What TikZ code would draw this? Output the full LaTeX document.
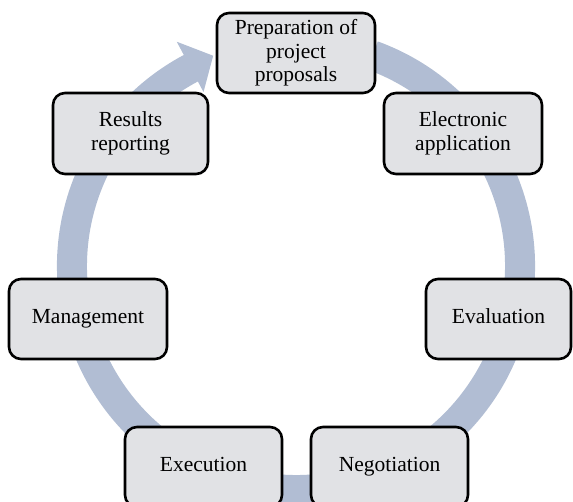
\documentclass[tikz,border=0pt]{standalone}
\usepackage{fontspec}
\setmainfont{Liberation Serif}
\usetikzlibrary{calc}
\definecolor{bandblue}{RGB}{177,189,211}
\definecolor{boxgray}{RGB}{225,226,229}
\tikzset{
  stage/.style={draw=black, line width=2.6pt, fill=boxgray, rounded corners=12pt,
    minimum width=#1, minimum height=80pt, inner sep=0pt, align=center,
    font=\fontsize{21.5}{23.5}\selectfont},
  stage/.default=158pt,
  band/.style={fill=bandblue}
}
\begin{document}
\begin{tikzpicture}[x=1pt,y=1pt]
  \useasboundingbox (0,0) rectangle (573,501);
  \coordinate (C) at (296,235);

  % circular arrow running clockwise behind the stages
  \fill[band] ($(C)+(70:239)$) arc[start angle=70, end angle=-242, radius=239]
    -- ($(C)+(118:254)$) -- ($(C)+(111.5:226)$) -- ($(C)+(118:197)$)
    -- ($(C)+(118:209)$) arc[start angle=-242, end angle=70, radius=209] -- cycle;

  % stages of the cycle
  \node[stage] (prep) at (296,448) {Preparation of\\project\\proposals};
  \node[stage, minimum height=81pt] (elec) at (463,367.5) {Electronic\\application};
  \node[stage=145pt] (eval) at (498.5,182) {\strut Evaluation};
  \node[stage=157pt] (nego) at (389.5,34) {\strut Negotiation};
  \node[stage=157pt] (exec) at (203.5,34) {\strut Execution};
  \node[stage] (mgmt) at (88,182) {\strut Management};
  \node[stage=155pt, minimum height=81pt] (res) at (130.5,367.5) {Results\\reporting};
\end{tikzpicture}
\end{document}
